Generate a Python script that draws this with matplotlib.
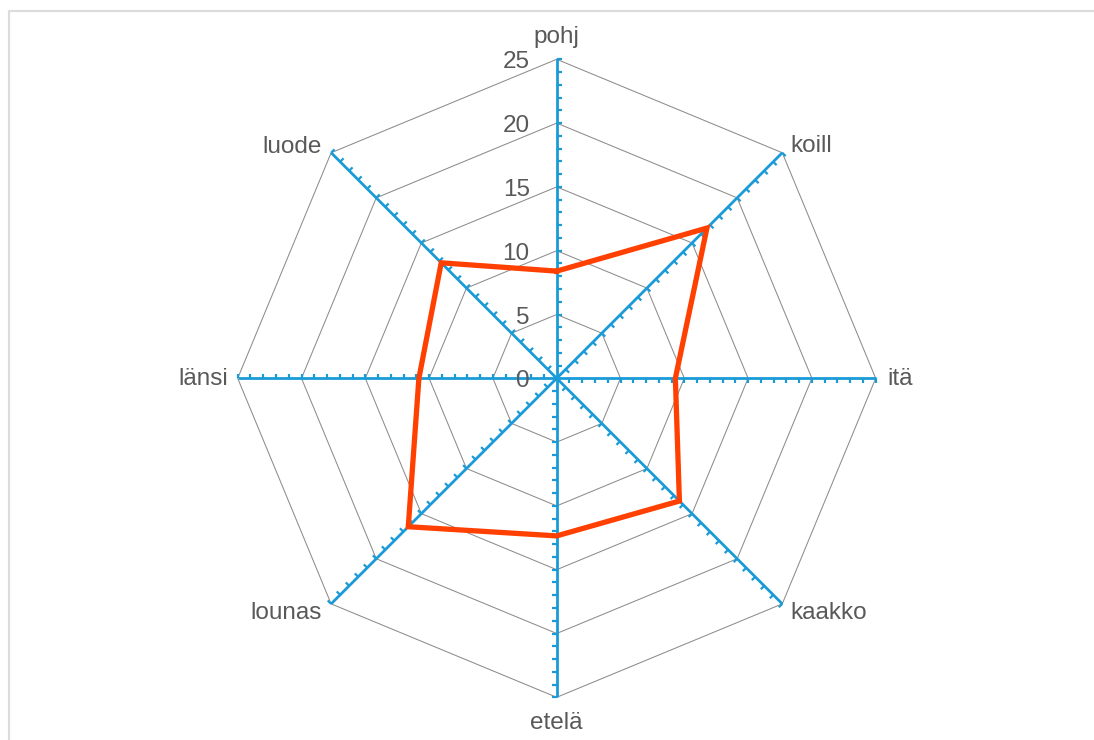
import numpy as np
import matplotlib
matplotlib.use("Agg")
import matplotlib.pyplot as plt
from matplotlib.collections import LineCollection
from matplotlib.lines import Line2D

categories = ["pohj", "koill", "itä", "kaakko", "etelä", "lounas", "länsi", "luode"]
values = [8.4, 16.65, 9.3, 13.6, 12.35, 16.45, 10.8, 12.8]
grid_levels = [5, 10, 15, 20, 25]
tick_labels = ["0", "5", "10", "15", "20", "25"]
r_max = 25

BLUE = "#1a9bd7"
RED = "#ff4000"
GRID = "#8c8c8c"
TEXT = "#595959"
FS = 17.5

W, H = 1094, 740
fig = plt.figure(figsize=(W / 100, H / 100), dpi=100)
ax = fig.add_axes([0, 0, 1, 1])
ax.set_axis_off()

cx_px, cy_px = 556.7, 378.3
scale = 319.0 / r_max  # px per unit
ax.set_xlim(-cx_px / scale, (W - cx_px) / scale)
ax.set_ylim(-(H - cy_px) / scale, cy_px / scale)

n = len(categories)
angles = np.deg2rad(90 - 45 * np.arange(n))
ux, uy = np.cos(angles), np.sin(angles)

# grid polygons
for lv in grid_levels:
    xs = np.append(lv * ux, lv * ux[0])
    ys = np.append(lv * uy, lv * uy[0])
    ax.plot(xs, ys, color=GRID, lw=0.75, zorder=1)

# axes
for i in range(n):
    ax.plot([0, r_max * ux[i]], [0, r_max * uy[i]], color=BLUE, lw=2.0,
            solid_capstyle="butt", zorder=2)
    # ticks on the clockwise side
    px, py = uy[i], -ux[i]
    tl = 4.8 / scale
    segs = []
    for t in range(1, r_max + 1):
        x0, y0 = t * ux[i], t * uy[i]
        segs.append([(x0, y0), (x0 + tl * px, y0 + tl * py)])
    ax.add_collection(LineCollection(segs, colors=BLUE, linewidths=1.6, zorder=2))

# data line
vx = np.array(values) * ux
vy = np.array(values) * uy
ax.plot(np.append(vx, vx[0]), np.append(vy, vy[0]), color=RED, lw=3.8,
        solid_joinstyle="miter", zorder=3)

# radial tick labels
for lv, lab in zip([0] + grid_levels, tick_labels):
    ax.annotate(lab, (0, lv), xytext=(-27, -3), textcoords="offset pixels",
                ha="right", va="center", fontsize=FS, color=TEXT,
                family="Liberation Sans", zorder=4)

# category labels
offsets = [(0, 22, "center"), (8, 7, "left"), (12, -1, "left"), (8, -9, "left"),
           (0, -26, "center"), (-9, -9, "right"), (-10, -1, "right"), (-9, 6, "right")]
for i, cat in enumerate(categories):
    dx, dy, ha = offsets[i]
    ax.annotate(cat, (r_max * ux[i], r_max * uy[i]), xytext=(dx, dy),
                textcoords="offset pixels", ha=ha, va="center", fontsize=FS,
                color=TEXT, family="Liberation Sans", zorder=4)

# light frame (top and left)
fig.add_artist(Line2D([8.5 / W, 8.5 / W, 1.0], [0.0, 1 - 10.5 / H, 1 - 10.5 / H],
                      transform=fig.transFigure, color="#dcdcdc", lw=1.6))

fig.savefig("out.png", dpi=100, facecolor="white")
